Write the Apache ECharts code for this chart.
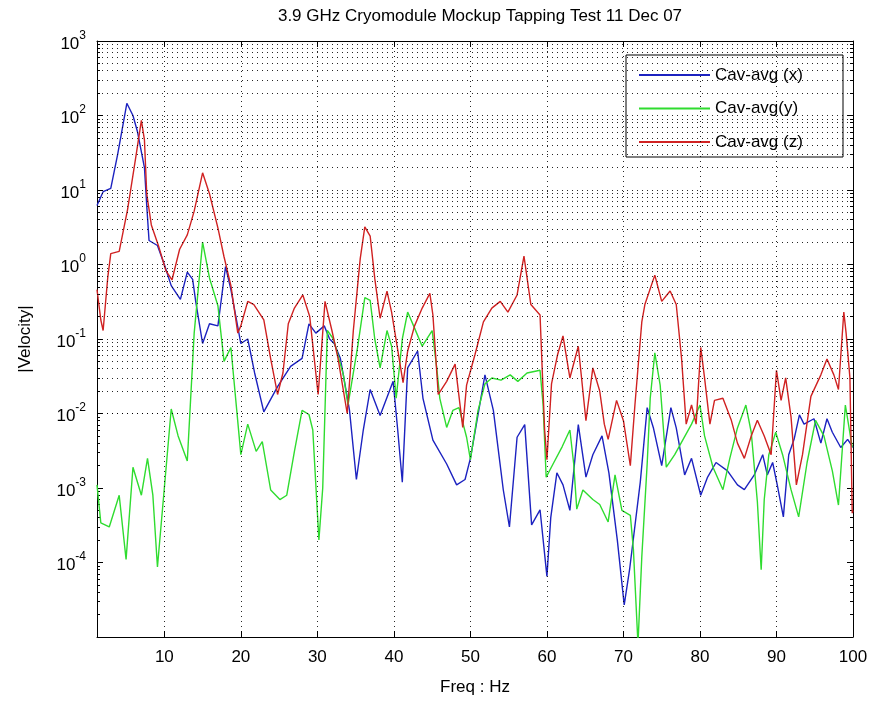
<!DOCTYPE html>
<html><head><meta charset="utf-8">
<script src="https://cdn.jsdelivr.net/npm/echarts@6/dist/echarts.min.js"></script>
<style>html,body{margin:0;padding:0;background:#fff}#c{width:881px;height:701px}</style>
</head><body><div id="c"></div>
<script>
const chartTitle = '3.9 GHz Cryomodule Mockup Tapping Test 11 Dec 07';
const xName = 'Freq : Hz';
const yName = '|Velocity|';
const seriesNames = ['Cav-avg (x)', 'Cav-avg(y)', 'Cav-avg (z)'];
const xTicks = [10, 20, 30, 40, 50, 60, 70, 80, 90, 100];
const xMin = 1.2, xMax = 100;
const yMin = 1e-5, yMax = 1e3;

// [frequency Hz, |velocity|]
const cavX = [[1.2,6.2],[2.0,9.5],[3.0,10.5],[3.9,30],[5.1,146],[5.9,100],[6.5,60],[7.4,20],[7.7,6.2],[8.0,2.1],[9.1,1.8],[10.0,1.0],[10.9,0.52],[12.1,0.34],[13.0,0.79],[13.7,0.63],[14.1,0.32],[15.0,0.087],[15.9,0.16],[17.0,0.15],[18.0,0.94],[18.7,0.46],[20.0,0.087],[20.9,0.1],[21.8,0.035],[23.0,0.0105],[24.8,0.023],[26.5,0.043],[28.0,0.055],[28.9,0.16],[29.8,0.12],[30.9,0.15],[31.6,0.1],[32.2,0.087],[33.0,0.055],[33.6,0.025],[34.2,0.011],[35.1,0.0013],[36.0,0.006],[36.9,0.021],[38.2,0.0094],[39.9,0.027],[40.5,0.006],[41.1,0.0012],[41.8,0.041],[43.1,0.069],[43.8,0.016],[45.1,0.0044],[46.9,0.0021],[48.2,0.0011],[49.3,0.0013],[50.0,0.0025],[51.9,0.033],[53.0,0.011],[54.3,0.00094],[55.1,0.0003],[56.1,0.0048],[57.1,0.0071],[58.0,0.00032],[59.1,0.00051],[60.0,6.5e-5],[60.5,0.0004],[61.3,0.0016],[62.1,0.0011],[63.0,0.0005],[64.1,0.0071],[65.1,0.0014],[66.0,0.0028],[67.2,0.005],[68.1,0.0016],[69.2,0.0002],[70.1,2.7e-5],[70.8,8e-5],[72.2,0.0012],[73.1,0.012],[73.9,0.0065],[75.0,0.002],[76.2,0.012],[76.9,0.0064],[78.0,0.0015],[78.9,0.0025],[80.1,0.0008],[81.0,0.0014],[82.1,0.0022],[83.6,0.0017],[84.9,0.0011],[85.8,0.00095],[87.1,0.0015],[88.2,0.0028],[88.8,0.0015],[89.5,0.0022],[90.1,0.0011],[90.9,0.00041],[91.6,0.0028],[92.3,0.0045],[93.0,0.0096],[93.6,0.0072],[94.9,0.0085],[95.8,0.004],[96.6,0.0085],[97.3,0.0056],[98.4,0.0035],[99.3,0.0045],[100,0.0035]];

const cavY = [[1.2,0.0011],[1.7,0.00034],[2.8,0.0003],[4.1,0.0008],[5.0,0.00011],[5.9,0.0019],[7.0,0.0008],[7.8,0.0025],[8.5,0.0008],[9.1,8.7e-5],[10.0,0.001],[10.9,0.0115],[11.8,0.005],[13.0,0.0023],[13.9,0.12],[15.0,2.0],[15.9,0.66],[17.0,0.28],[17.8,0.05],[18.7,0.077],[20.0,0.0028],[20.9,0.0072],[22.0,0.0031],[22.8,0.0042],[23.9,0.00094],[25.1,0.0007],[26.0,0.0008],[27.0,0.0031],[28.0,0.011],[28.9,0.0097],[29.4,0.006],[30.2,0.0002],[30.7,0.001],[31.3,0.13],[32.1,0.1],[33.4,0.033],[34.0,0.013],[35.3,0.083],[36.2,0.36],[36.9,0.33],[37.5,0.1],[38.2,0.041],[39.1,0.13],[39.7,0.08],[40.3,0.016],[41.1,0.1],[41.8,0.23],[42.7,0.14],[43.7,0.08],[45.0,0.13],[45.6,0.041],[46.0,0.016],[46.9,0.0065],[47.7,0.011],[48.5,0.012],[49.5,0.0048],[50.0,0.0024],[51.0,0.011],[51.9,0.025],[52.8,0.03],[54.0,0.028],[55.2,0.033],[56.2,0.027],[57.4,0.035],[59.1,0.038],[59.5,0.013],[59.9,0.0014],[60.8,0.0021],[62.0,0.0036],[63.0,0.006],[63.5,0.0021],[63.9,0.00052],[64.7,0.00094],[66.0,0.0007],[66.9,0.0006],[68.0,0.00035],[68.9,0.0015],[69.8,0.0005],[70.9,0.00043],[71.3,0.00015],[71.9,8e-6],[72.4,0.00012],[73.1,0.0021],[73.5,0.016],[74.1,0.065],[74.8,0.024],[75.6,0.0019],[76.7,0.0028],[77.8,0.0045],[78.9,0.0072],[80.0,0.013],[80.6,0.005],[81.7,0.0019],[83.0,0.00095],[83.9,0.0025],[84.9,0.0064],[86.0,0.013],[86.7,0.0056],[87.5,0.00066],[88.0,8e-5],[88.4,0.0007],[89.0,0.0028],[89.9,0.0056],[90.8,0.0028],[91.9,0.00095],[92.9,0.00041],[94.0,0.0022],[95.1,0.0081],[96.2,0.005],[97.3,0.0017],[98.1,0.00059],[99.0,0.013],[99.9,0.0035]];

const cavZ = [[1.2,0.46],[1.7,0.18],[2.0,0.13],[2.6,0.66],[3.0,1.4],[4.1,1.5],[5.2,5.5],[6.3,29],[7.0,86],[7.4,47],[7.7,8.9],[8.3,3.4],[9.3,1.7],[10.2,0.83],[11.0,0.62],[12.0,1.6],[13.0,2.5],[13.9,5.2],[15.0,17],[15.9,8.9],[17.0,3.1],[17.8,1.27],[18.7,0.52],[19.6,0.12],[20.0,0.15],[20.9,0.32],[21.7,0.29],[23.0,0.18],[23.9,0.054],[24.8,0.018],[25.5,0.035],[26.2,0.16],[27.0,0.26],[28.1,0.39],[29.0,0.2],[30.1,0.018],[31.0,0.32],[31.9,0.13],[32.7,0.055],[33.9,0.01],[34.7,0.13],[35.6,1.2],[36.2,3.2],[36.9,2.4],[37.5,0.65],[38.2,0.19],[39.1,0.44],[39.7,0.23],[40.4,0.083],[41.2,0.026],[41.8,0.069],[42.7,0.15],[43.7,0.26],[44.7,0.41],[45.1,0.21],[45.8,0.018],[46.9,0.027],[48.0,0.046],[49.0,0.0065],[49.5,0.024],[50.6,0.062],[51.7,0.17],[52.8,0.26],[53.9,0.32],[54.9,0.23],[56.1,0.39],[57.0,1.3],[57.9,0.29],[59.1,0.21],[59.7,0.006],[60.0,0.0024],[60.6,0.025],[61.4,0.062],[62.1,0.11],[63.0,0.03],[64.1,0.08],[65.1,0.008],[66.0,0.041],[66.9,0.02],[67.5,0.0072],[68.0,0.0045],[69.1,0.015],[70.0,0.008],[70.9,0.002],[71.5,0.013],[72.4,0.17],[72.8,0.29],[74.1,0.72],[75.0,0.32],[76.1,0.44],[76.9,0.29],[77.6,0.054],[78.2,0.0072],[78.9,0.013],[79.5,0.0072],[80.1,0.077],[80.6,0.03],[81.3,0.0072],[81.9,0.015],[83.0,0.016],[84.1,0.0081],[84.9,0.004],[85.8,0.0025],[86.7,0.005],[87.5,0.0081],[88.4,0.005],[89.3,0.0028],[90.0,0.038],[90.6,0.015],[91.2,0.03],[91.9,0.009],[92.6,0.0011],[93.4,0.0028],[94.5,0.017],[95.8,0.033],[96.6,0.054],[97.5,0.033],[98.1,0.021],[98.8,0.23],[99.1,0.12],[99.6,0.03],[99.9,0.00046],[100,0.0005]];

const colors = ['#1c22c0', '#2fdc2f', '#d02222'];
const FONT = 'Liberation Sans, Arial, Helvetica, sans-serif';

// grid lines (log decades with 2..9 minors), built from the axis ranges
const hLines = [];
for (let d = Math.round(Math.log10(yMin)); d < Math.round(Math.log10(yMax)); d++) {
  for (let k = 1; k <= 9; k++) {
    const v = k * Math.pow(10, d);
    if (v > yMin && v < yMax) hLines.push({ yAxis: v });
  }
}
const vLines = xTicks.filter(v => v > xMin && v < xMax).map(v => ({ xAxis: v }));
const majorY = [];
for (let d = Math.round(Math.log10(yMin)); d <= Math.round(Math.log10(yMax)); d++) majorY.push(Math.pow(10, d));
const minorY = hLines.map(o => o.yAxis).filter(v => !majorY.some(m => Math.abs(m - v) / m < 1e-9));

const chart = echarts.init(document.getElementById('c'), null, { renderer: 'canvas' });
const axisLine = { show: true, lineStyle: { color: '#000', width: 1 } };
chart.setOption({
  animation: false,
  backgroundColor: '#fff',
  textStyle: { fontFamily: FONT },
  title: {
    text: chartTitle, left: 475, textAlign: 'center', top: 3,
    textStyle: { fontFamily: FONT, fontSize: 17, fontWeight: 'normal', color: '#000' }
  },
  grid: { left: 97, right: 28, top: 41, bottom: 60, containLabel: false },
  legend: {
    data: seriesNames, orient: 'vertical', left: 626, top: 55,
    padding: [10, 3, 5, 13], itemGap: 13.5, itemWidth: 71, itemHeight: 2,
    backgroundColor: '#fff', borderColor: '#000', borderWidth: 1, borderRadius: 0,
    textStyle: { fontFamily: FONT, fontSize: 17, color: '#000', lineHeight: 20, width: 125 },
    icon: 'rect'
  },
  xAxis: [{
    type: 'value', min: xMin, max: xMax, position: 'bottom',
    name: xName, nameLocation: 'middle', nameGap: 42,
    nameTextStyle: { fontFamily: FONT, fontSize: 17, color: '#000' },
    axisLine: axisLine,
    axisTick: { show: true, inside: true, length: 6, customValues: xTicks, lineStyle: { color: '#000' } },
    axisLabel: { customValues: xTicks, fontFamily: FONT, fontSize: 17, color: '#000', margin: 12 },
    splitLine: { show: false }
  }, {
    type: 'value', min: xMin, max: xMax, position: 'top',
    axisLine: axisLine,
    axisTick: { show: true, inside: true, length: 6, customValues: xTicks, lineStyle: { color: '#000' } },
    axisLabel: { show: false }, splitLine: { show: false }
  }],
  yAxis: [{
    type: 'log', logBase: 10, min: yMin, max: yMax, position: 'left',
    name: yName, nameLocation: 'middle', nameGap: 63,
    nameTextStyle: { fontFamily: FONT, fontSize: 17, color: '#000' },
    axisLine: axisLine,
    axisTick: { show: true, inside: true, length: 6, customValues: majorY, lineStyle: { color: '#000' } },
    axisLabel: {
      customValues: majorY.filter(v => v > yMin), margin: 11,
      formatter: v => {
        const e = Math.round(Math.log10(v));
        return '{b|10}{s|' + e + '}';
      },
      rich: {
        b: { fontFamily: FONT, fontSize: 17, color: '#000', lineHeight: 23, verticalAlign: 'bottom' },
        s: { fontFamily: FONT, fontSize: 12, color: '#000', lineHeight: 12, verticalAlign: 'top' }
      }
    },
    splitLine: { show: false }
  }, {
    type: 'log', logBase: 10, min: yMin, max: yMax, position: 'left',
    axisLine: { show: false },
    axisTick: { show: true, inside: true, length: 3, customValues: minorY, lineStyle: { color: '#000' } },
    axisLabel: { show: false }, splitLine: { show: false }
  }, {
    type: 'log', logBase: 10, min: yMin, max: yMax, position: 'right',
    axisLine: axisLine,
    axisTick: { show: true, inside: true, length: 6, customValues: majorY, lineStyle: { color: '#000' } },
    axisLabel: { show: false }, splitLine: { show: false }
  }, {
    type: 'log', logBase: 10, min: yMin, max: yMax, position: 'right',
    axisLine: { show: false },
    axisTick: { show: true, inside: true, length: 3, customValues: minorY, lineStyle: { color: '#000' } },
    axisLabel: { show: false }, splitLine: { show: false }
  }],
  series: [{
    name: '_grid', type: 'line', data: [], xAxisIndex: 0, yAxisIndex: 0, z: 1,
    silent: true,
    markLine: {
      silent: true, symbol: ['none', 'none'], animation: false,
      label: { show: false },
      lineStyle: { color: '#000', width: 1, type: [1, 4], opacity: 0.85 },
      emphasis: { disabled: true },
      data: hLines.concat(vLines)
    }
  }].concat([cavX, cavY, cavZ].map((d, i) => ({
    name: seriesNames[i], type: 'line', data: d, xAxisIndex: 0, yAxisIndex: 0,
    showSymbol: false, symbol: 'none', clip: true, z: 3,
    lineStyle: { color: colors[i], width: 1.4 }, itemStyle: { color: colors[i] }
  })))
});
</script>
</body></html>
